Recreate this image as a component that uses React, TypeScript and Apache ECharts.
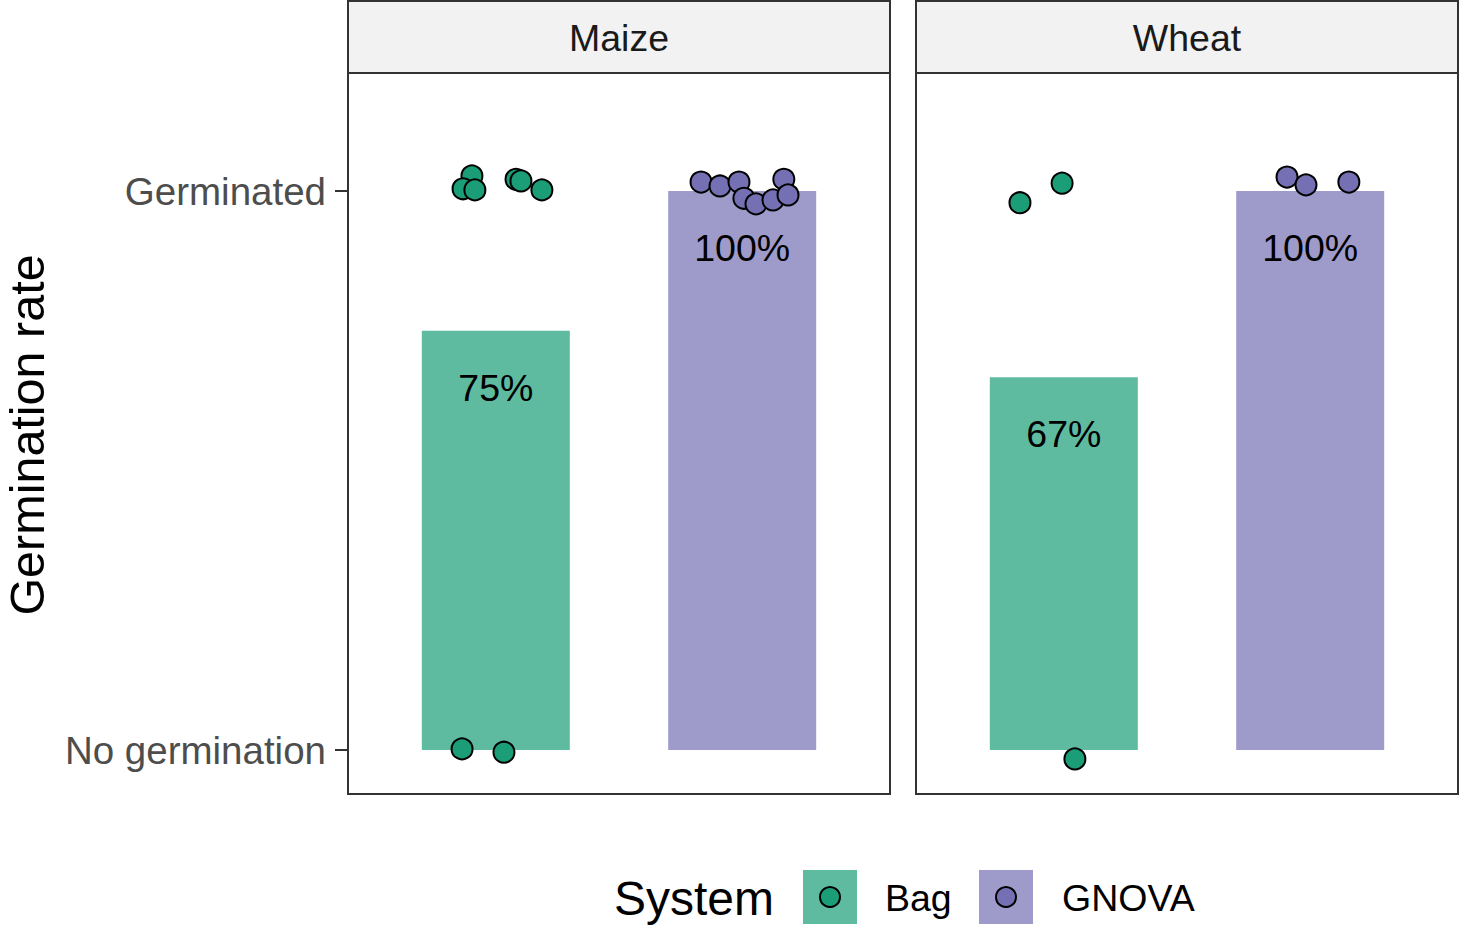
import React, { useEffect, useRef } from "react";
import * as echarts from "echarts";

// ---- data ----
const crops = ["Maize", "Wheat"];
const systems = ["Bag", "GNOVA"];
const maizeRates = [0.75, 1.0];
const wheatRates = [0.667, 1.0];
const yTickValues = [0, 1];
const yTickLabels = ["No germination", "Germinated"];

// jittered observations: outcome (0/1) plus jitter offsets
const maizeBagOutcome = [1, 1, 1, 1, 1, 1, 0, 0];
const maizeBagDx = [-0.097, -0.133, -0.085, 0.082, 0.102, 0.187, -0.137, 0.033];
const maizeBagDy = [0.027, 0.004, 0.002, 0.021, 0.018, 0.002, 0.002, -0.004];

const maizeGnovaOutcome = [1, 1, 1, 1, 1, 1, 1, 1];
const maizeGnovaDx = [-0.167, -0.09, -0.013, 0.169, 0.007, 0.056, 0.125, 0.186];
const maizeGnovaDy = [0.016, 0.009, 0.016, 0.021, -0.013, -0.023, -0.016, -0.007];

const wheatBagOutcome = [1, 1, 0];
const wheatBagDx = [-0.178, -0.007, 0.045];
const wheatBagDy = [-0.021, 0.014, -0.016];

const wheatGnovaOutcome = [1, 1, 1];
const wheatGnovaDx = [-0.094, -0.017, 0.157];
const wheatGnovaDy = [0.025, 0.011, 0.016];

// ---- styles ----
const FONT = "Liberation Sans, Arial, Helvetica, sans-serif";
const pointColors = ["#1B9E77", "#7570B3"];
const barColors = ["rgba(27,158,119,0.7)", "rgba(117,112,179,0.7)"];
const BORDER = "#333333";

const pts = (center: number, outcome: number[], dx: number[], dy: number[]) =>
  outcome.map((o, i) => [center + dx[i], o + dy[i]]);

export default function App() {
  const ref = useRef<HTMLDivElement>(null);
  useEffect(() => {
    if (!ref.current) return;
    const chart = echarts.init(ref.current, null, { renderer: "svg" });

    const panelLeft = [348, 916];
    const panelW = 542;
    const top = 73;
    const h = 721;

    const grids = panelLeft.map((l) => ({
      left: l,
      top,
      width: panelW,
      height: h,
      show: true,
      borderColor: BORDER,
      borderWidth: 2,
      backgroundColor: "#FFFFFF",
    }));

    const xAxes = [0, 1].map((g) => ({
      type: "value",
      gridIndex: g,
      min: 0.4,
      max: 2.6,
      show: false,
    }));

    const yAxes = [0, 1].map((g) => ({
      type: "value",
      gridIndex: g,
      min: -0.0787,
      max: 1.2111,
      axisLine: { show: false },
      splitLine: { show: false },
      axisTick: {
        show: g === 0,
        length: 13,
        customValues: yTickValues,
        lineStyle: { color: BORDER, width: 2 },
      },
      axisLabel: {
        show: g === 0,
        customValues: yTickValues,
        margin: 22,
        fontSize: 38.5,
        fontFamily: FONT,
        color: "#4D4D4D",
        formatter: (v: number) => {
          const i = yTickValues.indexOf(Math.round(v));
          return i >= 0 ? yTickLabels[i] : "";
        },
      },
    }));

    const rateSets = [maizeRates, wheatRates];
    const barSeries = rateSets.map((rates, g) => ({
      type: "bar",
      xAxisIndex: g,
      yAxisIndex: g,
      barWidth: 148,
      z: 2,
      data: rates.map((r, i) => ({
        value: [i + 1, r],
        itemStyle: { color: barColors[i] },
      })),
      label: {
        show: true,
        position: "insideTop",
        distance: 38,
        fontSize: 37.5,
        fontFamily: FONT,
        color: "#000000",
        formatter: (p: any) => Math.round(p.value[1] * 100) + "%",
      },
    }));

    const pointSets = [
      { g: 0, s: 0, data: pts(1, maizeBagOutcome, maizeBagDx, maizeBagDy) },
      { g: 0, s: 1, data: pts(2, maizeGnovaOutcome, maizeGnovaDx, maizeGnovaDy) },
      { g: 1, s: 0, data: pts(1, wheatBagOutcome, wheatBagDx, wheatBagDy) },
      { g: 1, s: 1, data: pts(2, wheatGnovaOutcome, wheatGnovaDx, wheatGnovaDy) },
    ];
    const scatterSeries = pointSets.map((p) => ({
      type: "scatter",
      name: systems[p.s],
      xAxisIndex: p.g,
      yAxisIndex: p.g,
      symbol: "circle",
      symbolSize: 21,
      z: 3,
      itemStyle: { color: pointColors[p.s], borderColor: "#000000", borderWidth: 2, opacity: 1 },
      data: p.data,
    }));

    const graphic: any[] = [];
    panelLeft.forEach((l, i) => {
      graphic.push({
        type: "rect",
        shape: { x: l, y: 1, width: panelW, height: 72 },
        style: { fill: "#F2F2F2", stroke: BORDER, lineWidth: 2 },
        z: 10,
      });
      graphic.push({
        type: "text",
        x: l + panelW / 2,
        y: 38,
        style: {
          text: crops[i],
          fontSize: 37.5,
          fontFamily: FONT,
          fill: "#1A1A1A",
          align: "center",
          verticalAlign: "middle",
        },
        z: 11,
      });
    });
    graphic.push({
      type: "text",
      x: 27,
      y: 435,
      rotation: Math.PI / 2,
      style: {
        text: "Germination rate",
        fontSize: 48.5,
        fontFamily: FONT,
        fill: "#000000",
        align: "center",
        verticalAlign: "middle",
      },
    });
    // legend
    graphic.push({
      type: "text",
      x: 614,
      y: 898,
      style: { text: "System", fontSize: 48, fontFamily: FONT, fill: "#000000", align: "left", verticalAlign: "middle" },
    });
    const keyX = [803, 979];
    const labelX = [885, 1062];
    systems.forEach((s, i) => {
      graphic.push({
        type: "rect",
        shape: { x: keyX[i], y: 870, width: 54, height: 54 },
        style: { fill: barColors[i] },
      });
      graphic.push({
        type: "circle",
        shape: { cx: keyX[i] + 27, cy: 897, r: 10 },
        style: { fill: pointColors[i], stroke: "#000000", lineWidth: 2 },
      });
      graphic.push({
        type: "text",
        x: labelX[i],
        y: 898,
        style: { text: s, fontSize: 37.5, fontFamily: FONT, fill: "#000000", align: "left", verticalAlign: "middle" },
      });
    });

    chart.setOption({
      animation: false,
      backgroundColor: "#FFFFFF",
      textStyle: { fontFamily: FONT },
      grid: grids,
      xAxis: xAxes,
      yAxis: yAxes,
      series: [...barSeries, ...scatterSeries],
      graphic,
    } as any);
    return () => chart.dispose();
  }, []);
  return (
    <div
      ref={ref}
      style={{ position: "fixed", left: 0, top: 0, width: 1464, height: 928 }}
    />
  );
}
